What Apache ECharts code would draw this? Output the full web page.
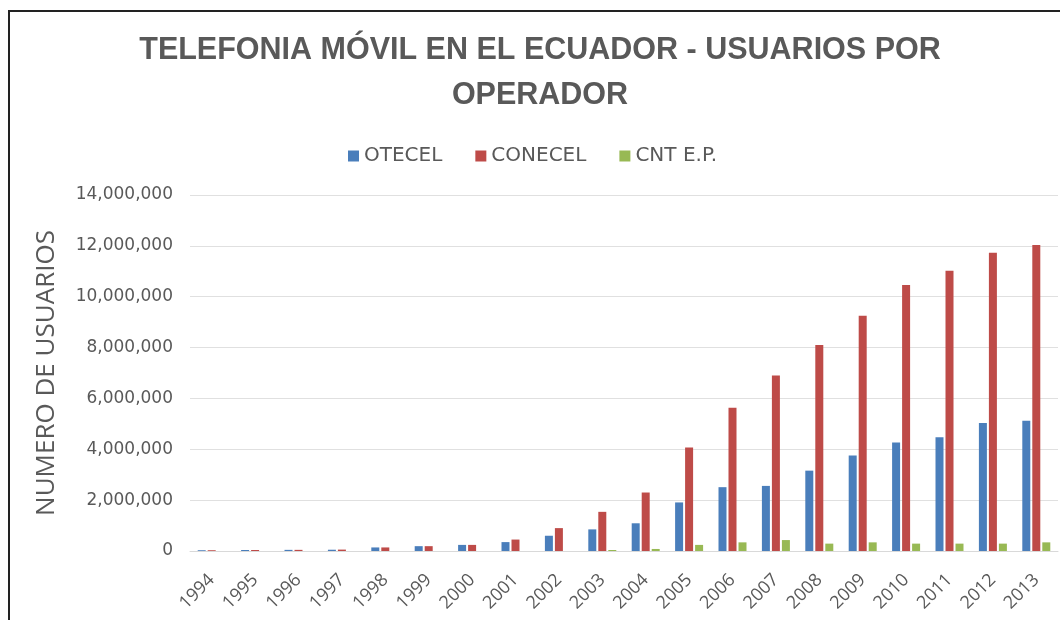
<!DOCTYPE html>
<html>
<head>
<meta charset="utf-8">
<script src="https://cdn.jsdelivr.net/npm/echarts@6/dist/echarts.min.js"></script>
<style>
  html, body { margin: 0; padding: 0; background: #fff; }
  #chart { width: 1060px; height: 620px; }
</style>
</head>
<body>
<div id="chart"></div>
<script>
// datos
const years = ["1994", "1995", "1996", "1997", "1998", "1999", "2000", "2001", "2002", "2003",
  "2004", "2005", "2006", "2007", "2008", "2009", "2010", "2011", "2012", "2013"];
const otecel = [30000, 40000, 45000, 50000, 140000, 190000, 240000, 350000, 600000, 850000,
  1090000, 1910000, 2510000, 2560000, 3160000, 3760000, 4270000, 4470000, 5030000, 5120000];
const conecel = [30000, 40000, 45000, 55000, 140000, 190000, 240000, 450000, 900000, 1540000,
  2300000, 4070000, 5630000, 6900000, 8100000, 9250000, 10460000, 11020000, 11730000, 12030000];
const cnt = [0, 0, 0, 0, 0, 0, 0, 0, 0, 40000,
  80000, 240000, 340000, 430000, 290000, 340000, 290000, 290000, 290000, 340000];
const yTicks = [0, 2000000, 4000000, 6000000, 8000000, 10000000, 12000000, 14000000];

const grey = "#595959";
const wide = "'DejaVu Sans', sans-serif";
const chart = echarts.init(document.getElementById("chart"));

chart.setOption({
  backgroundColor: "#fff",
  animation: false,
  graphic: [{
    type: "rect",
    shape: { x: 9, y: 11, width: 1200, height: 800 },
    style: { fill: "none", stroke: "#222", lineWidth: 2 },
    silent: true
  }],
  title: {
    text: "TELEFONIA MÓVIL EN EL ECUADOR - USUARIOS POR\nOPERADOR",
    left: 535,
    top: 23,
    textAlign: "center",
    textStyle: { color: grey, fontSize: 30.5, fontWeight: "bold", lineHeight: 45, fontFamily: "'Liberation Sans', sans-serif" }
  },
  legend: {
    top: 141,
    left: 343,
    itemWidth: 11,
    itemHeight: 11,
    itemGap: 33,
    icon: "rect",
    textStyle: { color: grey, fontSize: 20, fontFamily: wide }
  },
  grid: { left: 190, right: 2, top: 195, bottom: 69 },
  xAxis: {
    type: "category",
    data: years,
    axisTick: { show: false },
    axisLine: { lineStyle: { color: "#d9d9d9" } },
    axisLabel: { rotate: 45, color: grey, fontSize: 18, margin: 26, fontFamily: "'Open Sans', sans-serif" }
  },
  yAxis: {
    type: "value",
    min: yTicks[0],
    max: yTicks[yTicks.length - 1],
    interval: 2000000,
    name: "NUMERO DE USUARIOS",
    nameLocation: "middle",
    nameGap: 130,
    nameTextStyle: { color: grey, fontSize: 26, fontFamily: "'Open Sans', sans-serif" },
    axisLabel: {
      color: grey, fontSize: 17, margin: 17, fontFamily: wide,
      formatter: v => v.toLocaleString("en-US")
    },
    splitLine: { lineStyle: { color: "#e0e0e0" } }
  },
  series: [
    { name: "OTECEL", type: "bar", data: otecel, barWidth: 8, barGap: "25%", itemStyle: { color: "#4A7EBB" } },
    { name: "CONECEL", type: "bar", data: conecel, barWidth: 8, barGap: "25%", itemStyle: { color: "#BE4B48" } },
    { name: "CNT E.P.", type: "bar", data: cnt, barWidth: 8, barGap: "25%", itemStyle: { color: "#98B954" } }
  ]
});
</script>
</body>
</html>
